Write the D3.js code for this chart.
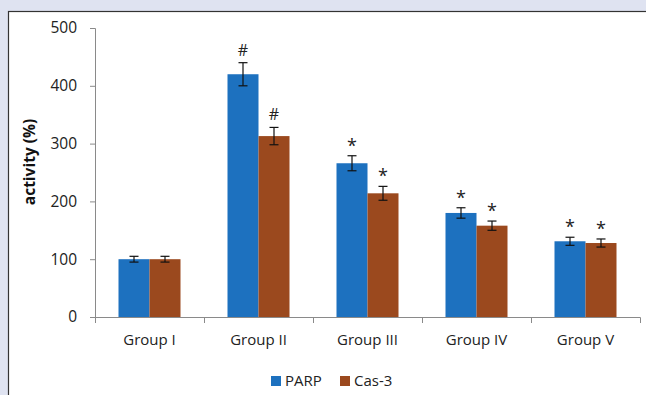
<!DOCTYPE html>
<html><head><meta charset="utf-8">
<script src="https://cdn.jsdelivr.net/npm/d3@7"></script>
<style>body{margin:0;background:#dfe3f1;}svg{display:block;}</style>
</head><body>
<svg id="c" width="646" height="395"></svg>
<script>
const categories = ["Group I","Group II","Group III","Group IV","Group V"];
const seriesNames = ["PARP","Cas-3"];
const parp = [100, 420, 266, 180, 131];
const parpErr = [5, 20, 13, 9, 7];
const cas3 = [100, 313, 214, 158, 128];
const cas3Err = [5, 15, 12, 8, 7];
const marksParp = ["", "#", "*", "*", "*"];
const marksCas3 = ["", "#", "*", "*", "*"];
const yTicks = [0,100,200,300,400,500];
const colors = ["#1d71bf", "#9b491e"];

const svg = d3.select("#c");
const font = "'Open Sans', 'Liberation Sans', sans-serif";
svg.append("rect").attr("x",8.5).attr("y",11.5).attr("width",700).attr("height",500)
  .attr("fill","#fff").attr("stroke","#333").attr("stroke-width",1.2);

const x0 = d3.scaleBand().domain(categories).range([95,640]).paddingInner(0).paddingOuter(0);
const y = d3.scaleLinear().domain([0,500]).range([317,28]);
const barW = 31;

const g = svg.append("g");
// y axis
const ya = g.append("g").attr("transform","translate(95,0)")
  .call(d3.axisLeft(y).tickValues(yTicks).tickSize(5).tickPadding(13));
ya.selectAll("path,line").attr("stroke","#8a8a8a");
ya.selectAll("text").attr("font-family",font).attr("font-size",15.5).attr("fill","#222");
ya.select(".domain").attr("d","M-5,28.5H0.5V317.5");
// x axis
const xa = g.append("g").attr("transform","translate(0,317)")
  .call(d3.axisBottom(x0).tickSize(0).tickPadding(17));
xa.selectAll("path").attr("stroke","#8a8a8a");
xa.select(".domain").attr("d","M95,0.5H640.5V6");
xa.selectAll("text").attr("font-family",font).attr("font-size",15).attr("fill","#222");
categories.forEach((c,i)=>{
  const xx = x0(c);
  g.append("line").attr("x1",xx+0.5).attr("x2",xx+0.5).attr("y1",317).attr("y2",323).attr("stroke","#8a8a8a");
});

const series = [
  {vals:parp, err:parpErr, marks:marksParp, off:-barW, col:colors[0]},
  {vals:cas3, err:cas3Err, marks:marksCas3, off:0, col:colors[1]}
];
series.forEach(s=>{
  categories.forEach((c,i)=>{
    const cx = x0(c)+x0.bandwidth()/2 + s.off;
    const v = s.vals[i];
    g.append("rect").attr("x",cx).attr("y",y(v)).attr("width",barW).attr("height",y(0)-y(v)).attr("fill",s.col);
    const ex = cx + barW/2;
    const t = y(v+s.err[i]), b = y(v-s.err[i]);
    g.append("line").attr("x1",ex).attr("x2",ex).attr("y1",t).attr("y2",b).attr("stroke","#111").attr("stroke-width",1.2);
    [t,b].forEach(yy=>g.append("line").attr("x1",ex-4.5).attr("x2",ex+4.5).attr("y1",yy).attr("y2",yy).attr("stroke","#111").attr("stroke-width",1.2));
    if (s.marks[i]) {
      g.append("text").attr("x",ex).attr("y", t - (s.marks[i]==="#"?7:4)).attr("text-anchor","middle")
        .attr("font-family",font).attr("font-size",s.marks[i]==="#"?16:18).attr("fill","#222").text(s.marks[i]);
    }
  });
});

svg.append("text").attr("transform","translate(35,162) rotate(-90)").attr("text-anchor","middle")
  .attr("font-family",font).attr("font-weight","bold").attr("font-size",15.5).attr("fill","#111").text("activity (%)");

// legend
const leg = svg.append("g");
const legX = [271, 340];
seriesNames.forEach((n,i)=>{
  leg.append("rect").attr("x",legX[i]).attr("y",376).attr("width",10).attr("height",10).attr("fill",colors[i]);
  leg.append("text").attr("x",legX[i]+14).attr("y",386).attr("font-family",font).attr("font-size",15).attr("fill","#222").text(n);
});
</script>
</body></html>
